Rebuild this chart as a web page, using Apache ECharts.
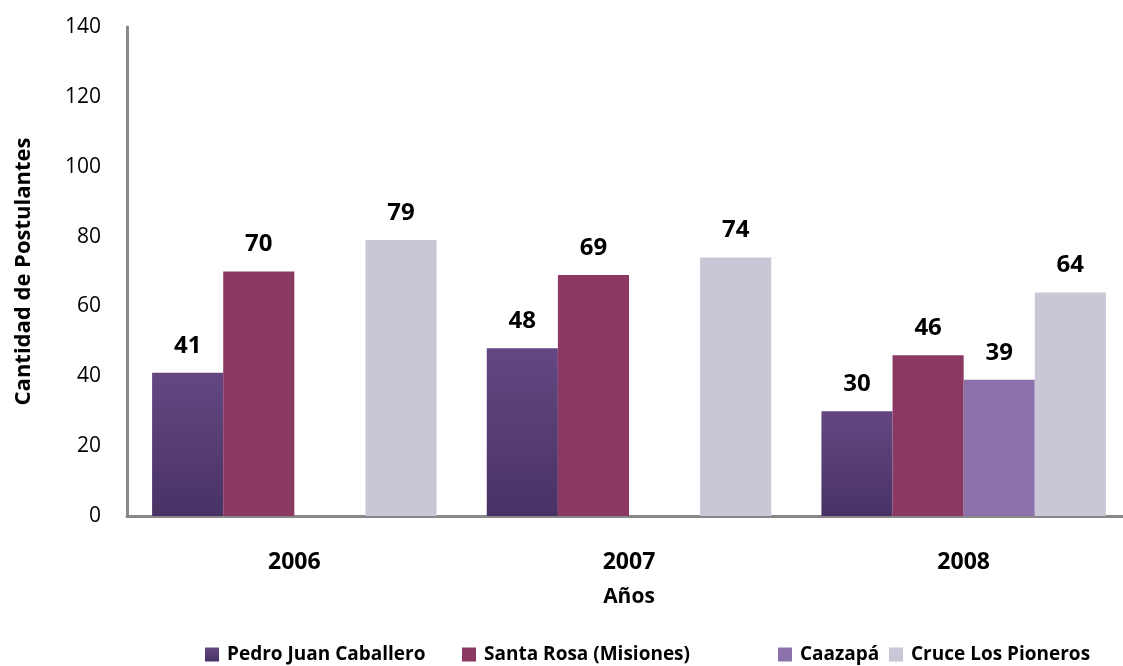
<!DOCTYPE html>
<html>
<head>
  <meta charset="UTF-8">
  <title>Postulantes</title>
  <script src="https://cdn.jsdelivr.net/npm/echarts@6/dist/echarts.min.js"></script>
</head>
<body style="margin:0">
  <div id="main" style="width:1123px;height:666px;"></div>
  <script type="text/javascript">
    // datos
    var anios = ['2006', '2007', '2008'];
    var sedes = ['Pedro Juan Caballero', 'Santa Rosa (Misiones)', 'Caazapá', 'Cruce Los Pioneros'];
    var pedroJuan = [41, 48, 30];
    var santaRosa = [70, 69, 46];
    var caazapa = [null, null, 39];
    var cruce = [79, 74, 64];

    var fuente = 'Open Sans';
    var etiqueta = {
      show: true,
      position: 'top',
      distance: 15,
      fontFamily: fuente,
      fontWeight: 'bold',
      fontSize: 24,
      color: '#000'
    };

    function serie(nombre, datos, color) {
      return {
        name: nombre,
        type: 'bar',
        data: datos,
        barGap: '0%',
        barCategoryGap: '15%',
        itemStyle: { color: color },
        label: etiqueta
      };
    }

    // una leyenda por sede, para poder ubicar cada una como en el original
    var posLeyenda = [205, 462, 778, 889];
    var leyendas = sedes.map(function (s, i) {
      return {
        data: [s],
        left: posLeyenda[i],
        top: 645,
        padding: 0,
        itemWidth: 14,
        itemHeight: 14,
        itemGap: 0,
        icon: 'rect',
        textStyle: { fontFamily: fuente, fontWeight: 'bold', fontSize: 19, color: '#000', padding: [0, 0, 0, 3] }
      };
    });

    var myChart = echarts.init(document.getElementById('main'));
    var option = {
      animation: false,
      grid: { left: 127, right: -8, top: 27, bottom: 150, outerBoundsMode: 'none' },
      legend: leyendas,
      xAxis: {
        type: 'category',
        data: anios,
        name: 'Años',
        nameLocation: 'middle',
        nameGap: 71,
        nameTextStyle: { fontFamily: fuente, fontWeight: 'bold', fontSize: 21, color: '#000' },
        axisLine: { lineStyle: { color: '#888', width: 3 } },
        axisTick: { show: false },
        axisLabel: { margin: 35, fontFamily: fuente, fontWeight: 'bold', fontSize: 23, color: '#000' }
      },
      yAxis: {
        type: 'value',
        min: 0,
        max: 140,
        interval: 20,
        name: 'Cantidad de Postulantes',
        nameLocation: 'middle',
        nameGap: 92,
        nameTextStyle: { fontFamily: fuente, fontWeight: 'bold', fontSize: 22, color: '#000' },
        axisLine: { show: true, lineStyle: { color: '#888', width: 3 } },
        axisTick: { show: false },
        splitLine: { show: false },
        axisLabel: { margin: 26, fontFamily: fuente, fontSize: 21, color: '#000' }
      },
      series: [
        serie(sedes[0], pedroJuan,
          new echarts.graphic.LinearGradient(0, 0, 0, 1, [
            { offset: 0, color: '#644782' },
            { offset: 1, color: '#483264' }
          ])),
        serie(sedes[1], santaRosa, '#8B3862'),
        serie(sedes[2], caazapa, '#8B72AA'),
        serie(sedes[3], cruce, '#C9C6D6')
      ]
    };
    myChart.setOption(option);
  </script>
</body>
</html>
